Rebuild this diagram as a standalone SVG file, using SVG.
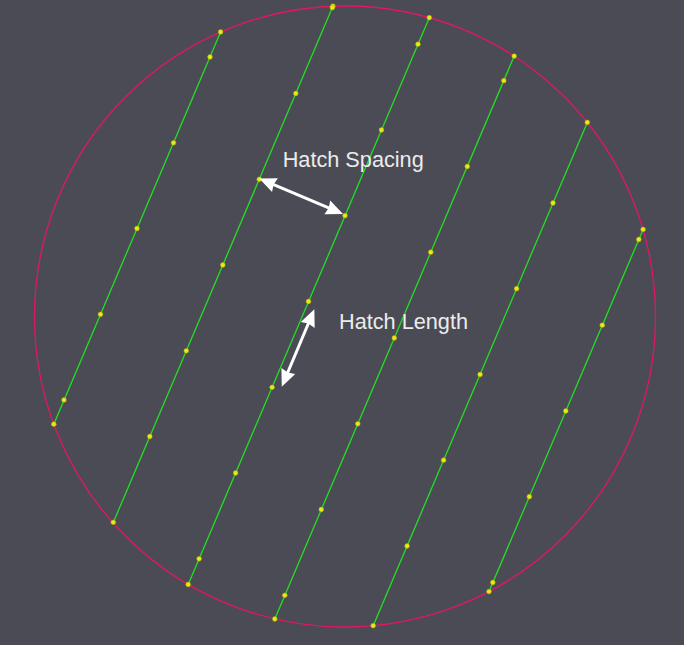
<svg xmlns="http://www.w3.org/2000/svg" width="684" height="645" viewBox="0 0 684 645">
<defs>
<style>
.bg{fill:#4b4b56}
.ring{fill:none;stroke:#e0185e;stroke-width:1.3}
.hatch{stroke:#22e022;stroke-width:1.3;fill:none}
.dot{fill:#e8e81a;stroke:#a8a800;stroke-width:0.5}
.dim{stroke:#ffffff;stroke-width:3;fill:none;marker-start:url(#ah);marker-end:url(#ah)}
.lbl{font-family:"Liberation Sans",Arial,sans-serif;font-size:21.7px;fill:#ececec}
</style>
<marker id="ah" markerUnits="userSpaceOnUse" markerWidth="24" markerHeight="20" viewBox="-16 -10 24 20" refX="0" refY="0" orient="auto-start-reverse" overflow="visible">
<path d="M4,0 L-13,-7.5 L-11.5,0 L-13,7.5 Z" fill="#ffffff"/>
</marker>
</defs>
<rect class="bg" x="0" y="0" width="684" height="645"/>
<g id="circle"><ellipse class="ring" cx="345" cy="316.5" rx="310.5" ry="310.5"/></g>
<g id="connectors">
<line class="hatch" x1="220.6" y1="32.0" x2="53.8" y2="424.2"/>
<line class="hatch" x1="332.9" y1="6.2" x2="113.1" y2="522.9"/>
<line class="hatch" x1="429.3" y1="17.7" x2="188.2" y2="584.5"/>
<line class="hatch" x1="514.2" y1="56.1" x2="274.8" y2="619.0"/>
<line class="hatch" x1="587.3" y1="122.4" x2="373.2" y2="625.7"/>
<line class="hatch" x1="643.1" y1="229.4" x2="489.0" y2="591.6"/>
</g>
<g id="hatch-points">
<circle class="dot" cx="220.6" cy="32.0" r="2.4"/>
<circle class="dot" cx="210" cy="57" r="2.4"/>
<circle class="dot" cx="173.5" cy="142.8" r="2.4"/>
<circle class="dot" cx="137.0" cy="228.5" r="2.4"/>
<circle class="dot" cx="100.5" cy="314.3" r="2.4"/>
<circle class="dot" cx="64.0" cy="400.0" r="2.4"/>
<circle class="dot" cx="53.8" cy="424.2" r="2.4"/>

<circle class="dot" cx="332.9" cy="6.2" r="2.4"/>
<circle class="dot" cx="332.3" cy="7.7" r="2.4"/>
<circle class="dot" cx="295.8" cy="93.5" r="2.4"/>
<circle class="dot" cx="259.3" cy="179.3" r="2.4"/>
<circle class="dot" cx="222.8" cy="265.0" r="2.4"/>
<circle class="dot" cx="186.3" cy="350.8" r="2.4"/>
<circle class="dot" cx="149.8" cy="436.5" r="2.4"/>
<circle class="dot" cx="113.3" cy="522.3" r="2.4"/>

<circle class="dot" cx="429.3" cy="17.7" r="2.4"/>
<circle class="dot" cx="418.0" cy="44.2" r="2.4"/>
<circle class="dot" cx="381.5" cy="130.0" r="2.4"/>
<circle class="dot" cx="345.0" cy="215.7" r="2.4"/>
<circle class="dot" cx="308.5" cy="301.5" r="2.4"/>
<circle class="dot" cx="272.1" cy="387.3" r="2.4"/>
<circle class="dot" cx="235.6" cy="473.0" r="2.4"/>
<circle class="dot" cx="199.1" cy="558.8" r="2.4"/>
<circle class="dot" cx="188.2" cy="584.5" r="2.4"/>

<circle class="dot" cx="514.2" cy="56.1" r="2.4"/>
<circle class="dot" cx="503.8" cy="80.7" r="2.4"/>
<circle class="dot" cx="467.3" cy="166.5" r="2.4"/>
<circle class="dot" cx="430.8" cy="252.2" r="2.4"/>
<circle class="dot" cx="394.3" cy="338.0" r="2.4"/>
<circle class="dot" cx="357.8" cy="423.8" r="2.4"/>
<circle class="dot" cx="321.3" cy="509.5" r="2.4"/>
<circle class="dot" cx="284.8" cy="595.3" r="2.4"/>
<circle class="dot" cx="274.8" cy="619.0" r="2.4"/>

<circle class="dot" cx="587.3" cy="122.4" r="2.4"/>
<circle class="dot" cx="553.0" cy="203.0" r="2.4"/>
<circle class="dot" cx="516.6" cy="288.7" r="2.4"/>
<circle class="dot" cx="480.1" cy="374.5" r="2.4"/>
<circle class="dot" cx="443.6" cy="460.2" r="2.4"/>
<circle class="dot" cx="407.1" cy="546.0" r="2.4"/>
<circle class="dot" cx="373.2" cy="625.7" r="2.4"/>

<circle class="dot" cx="643.1" cy="229.4" r="2.4"/>
<circle class="dot" cx="638.8" cy="239.5" r="2.4"/>
<circle class="dot" cx="602.3" cy="325.2" r="2.4"/>
<circle class="dot" cx="565.8" cy="411.0" r="2.4"/>
<circle class="dot" cx="529.3" cy="496.7" r="2.4"/>
<circle class="dot" cx="492.8" cy="582.5" r="2.4"/>
<circle class="dot" cx="489.0" cy="591.6" r="2.4"/>
</g>
<g id="hatch-spacing">
<line class="dim" x1="263.0" y1="180.1" x2="339.3" y2="212.4"/>
<text class="lbl" x="282.7" y="166.7">Hatch Spacing</text>
</g>
<g id="hatch-length">
<line class="dim" x1="312.8" y1="313.0" x2="283.3" y2="383.0"/>
<text class="lbl" x="339" y="329.3">Hatch Length</text>
</g>
</svg>
